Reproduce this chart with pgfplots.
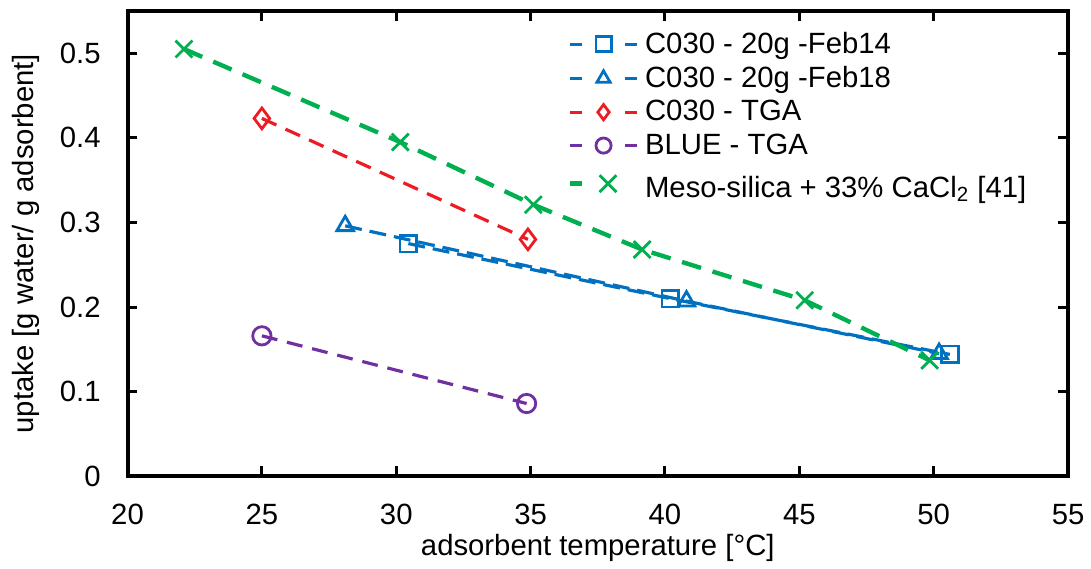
\documentclass[border=0pt]{standalone}
\usepackage{fontspec}
\setmainfont{Liberation Sans}
\usepackage{pgfplots}
\pgfplotsset{compat=1.18}
\definecolor{cblue}{RGB}{0,112,192}
\definecolor{cred}{RGB}{237,28,36}
\definecolor{cpurple}{RGB}{112,48,160}
\definecolor{cgreen}{RGB}{0,176,80}
\pgfplotsset{
  stdlegend/.style={legend image code/.code={
    \draw[##1, solid] (0pt,0pt) -- (6pt,0pt);
    \draw[##1, solid] (27.5pt,0pt) -- (33.5pt,0pt);
    \draw[##1, mark size=3.8pt] plot coordinates {(16.75pt,0pt)};}},
  mesolegend/.style={legend image code/.code={
    \draw[##1, solid] (0pt,0pt) -- (6pt,0pt);
    \draw[##1] plot coordinates {(19pt,0pt)};
    \path (33.5pt,0pt);}},
}
\begin{document}
\begin{tikzpicture}
\begin{axis}[
  scale only axis, width=472pt, height=233.5pt,
  xmin=20, xmax=55, ymin=0, ymax=0.55,
  xtick={20,25,30,35,40,45,50,55},
  ytick={0,0.1,0.2,0.3,0.4,0.5},
  tick align=inside, major tick length=5pt,
  every tick/.style={black, line width=1.5pt},
  axis line style={line width=2pt},
  font=\fontsize{14.7}{17}\selectfont,
  /pgf/number format/assume math mode=true,
  yticklabel style={/pgf/number format/fixed, /pgf/number format/precision=1, xshift=-10pt},
  xticklabel style={yshift=-10.5pt},
  xlabel={adsorbent temperature [°C]},
  ylabel={uptake [g water/ g adsorbent]},
  xlabel style={yshift=2pt},
  ylabel style={inner sep=1pt},
  ylabel shift=5.5pt,
  legend style={draw=none, fill=none, at={(0.4615,0.9726)}, anchor=north west,
    font=\fontsize{14.7}{17}\selectfont, row sep=1pt, column sep=1pt, cells={anchor=west}},
  stdlegend,
  clip=false,
  after end axis/.code={\path (rel axis cs:0,1) ++(0pt,5.5pt); \path (rel axis cs:1,0) ++(9.5pt,0pt); \path (rel axis cs:0,0) ++(-64pt,0pt);},
]
\addplot[cblue, line width=1.6pt, dash pattern=on 8.5pt off 4pt, mark=square, mark size=4.2pt, mark options={solid, fill=none, line width=1.4pt}]
  coordinates {(30.45,0.275) (40.2,0.210) (50.6,0.144)};
\addlegendentry{C030 - 20g -Feb14}
\addplot[cblue, line width=1.6pt, dash pattern=on 8.5pt off 4pt, mark=triangle, mark size=4.8pt, mark options={solid, fill=none, line width=1.4pt}]
  coordinates {(28.1,0.296) (40.8,0.207) (50.2,0.145)};
\addlegendentry{C030 - 20g -Feb18}
\addplot[cred, line width=1.6pt, dash pattern=on 8pt off 5pt, mark=diamond, mark size=5.2pt, mark options={solid, fill=none, line width=1.4pt}]
  coordinates {(25.0,0.423) (34.9,0.280)};
\addlegendentry{C030 - TGA}
\addplot[cpurple, line width=1.6pt, dash pattern=on 8pt off 5pt, mark=o, mark size=4.6pt, mark options={solid, fill=none, line width=1.4pt}]
  coordinates {(25.0,0.166) (34.85,0.086)};
\addlegendentry{BLUE - TGA}
\addplot[cgreen, line width=2.2pt, dash pattern=on 10pt off 6pt, mark=x, mark size=6pt, mark options={solid, line width=1.4pt}, mesolegend]
  coordinates {(22.1,0.505) (30.15,0.395) (35.1,0.321) (39.15,0.268) (45.2,0.208) (49.85,0.137)};
\addlegendentry{\rule{0pt}{15pt}Meso-silica + 33\% CaCl\textsubscript{2} [41]}
\end{axis}
\end{tikzpicture}
\end{document}
